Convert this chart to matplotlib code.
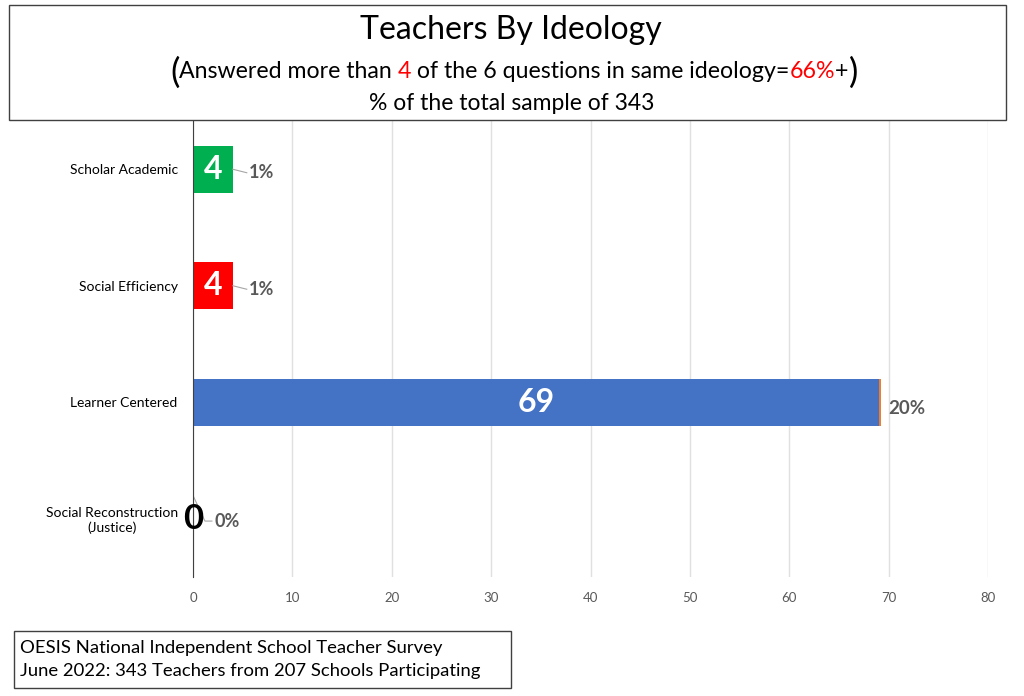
import matplotlib
matplotlib.use("Agg")
import matplotlib.pyplot as plt
from matplotlib.patches import Rectangle

plt.rcParams['font.family'] = ['Lato', 'DejaVu Sans']

categories = ["Scholar Academic", "Social Efficiency", "Learner Centered",
              "Social Reconstruction\n(Justice)"]
counts = [4, 4, 69, 0]
shares = [0.01, 0.01, 0.20, 0.0]   # second (tiny) series, shown as %
share_labels = ["1%", "1%", "20%", "0%"]
bar_colors = ["#00b050", "#ff0000", "#4472c4", "#4472c4"]
count_text_colors = ["white", "white", "white", "black"]
xticks = [0, 10, 20, 30, 40, 50, 60, 70, 80]

W, H = 1024, 696
fig = plt.figure(figsize=(W / 100, H / 100), dpi=100)
ax = fig.add_axes([193 / W, 1 - 577 / H, 795 / W, 466 / H])

ypos = list(range(len(categories)))
ax.barh(ypos, counts, height=0.4, color=bar_colors, zorder=3)
ax.barh(ypos, shares, left=counts, height=0.4, color="#ed7d31", zorder=3)

ax.set_xlim(0, 80)
ax.set_ylim(3.5, -0.5)
ax.set_xticks(xticks)
ax.set_yticks(ypos)
ax.set_yticklabels(categories, fontsize=10, color="black", multialignment='center')
ax.tick_params(axis='x', length=0, colors="#595959", labelsize=9.5, pad=11)
ax.tick_params(axis='y', length=0, pad=11)
ax.grid(axis='x', color="#e0e0e0", linewidth=1, zorder=0)
for s in ["top", "right", "bottom"]:
    ax.spines[s].set_visible(False)
ax.spines["left"].set_color("#404040")
ax.spines["left"].set_zorder(4)

# count labels
for y, c, tc in zip(ypos, counts, count_text_colors):
    ax.text(c / 2, y, str(c), ha='center', va='center', color=tc,
            fontsize=23 if c else 25, fontweight='bold', zorder=5)

# percent labels with leader lines
for y, c, s, lab in zip(ypos, counts, shares, share_labels):
    end = c + s
    if c == 0:
        ax.plot([end, end + 1.2, end + 1.9], [y - 0.2, y + 0.02, y + 0.02],
                color="#a6a6a6", lw=0.8, zorder=4)
        ax.text(end + 2.2, y + 0.02, lab, ha='left', va='center', fontsize=13,
                fontweight='bold', color="#595959", zorder=5)
    elif c < 10:
        ax.plot([end, end + 1.4], [y, y + 0.03], color="#a6a6a6", lw=0.8, zorder=4)
        ax.text(end + 1.6, y + 0.03, lab, ha='left', va='center', fontsize=13,
                fontweight='bold', color="#595959", zorder=5)
    else:
        ax.text(end + 0.8, y + 0.05, lab, ha='left', va='center', fontsize=13.5,
                fontweight='bold', color="#595959", zorder=5)

# title box
fig.patches.append(Rectangle((9 / W, 1 - 120 / H), 997 / W, 115 / H,
                             transform=fig.transFigure, facecolor="white",
                             edgecolor="#404040", linewidth=1, zorder=10))
fig.text(511 / W, 1 - 30 / H, "Teachers By Ideology", ha='center', va='center',
         fontsize=23, zorder=11)

# subtitle with coloured parts
parts = [("(", "black", 25), ("Answered more than ", "black", 16.7),
         ("4", "red", 16.7), (" of the 6 questions in same ideology=", "black", 16.7),
         ("66%", "red", 16.7), ("+", "black", 16.7), (")", "black", 25)]
sub_y = 1 - 70 / H
texts = [fig.text(0, sub_y, t, color=col, fontsize=fs, va='center_baseline', zorder=11)
         for t, col, fs in parts]
fig.canvas.draw()
r = fig.canvas.get_renderer()
widths = [t.get_window_extent(r).width for t in texts]
x = 514 - sum(widths) / 2
for t, w in zip(texts, widths):
    t.set_x(x / W)
    x += w

fig.text(512 / W, 1 - 103 / H, "% of the total sample of 343", ha='center',
         va='center', fontsize=16.5, zorder=11)

# footer box
fig.patches.append(Rectangle((14 / W, 1 - 688 / H), 497 / W, 57 / H,
                             transform=fig.transFigure, fill=False,
                             edgecolor="#404040", linewidth=1))
fig.text(20 / W, 1 - 648 / H, "OESIS National Independent School Teacher Survey",
         ha='left', va='center', fontsize=13.3)
fig.text(20 / W, 1 - 671 / H, "June 2022: 343 Teachers from 207 Schools Participating",
         ha='left', va='center', fontsize=13.3)

fig.savefig("out.png", dpi=100)
